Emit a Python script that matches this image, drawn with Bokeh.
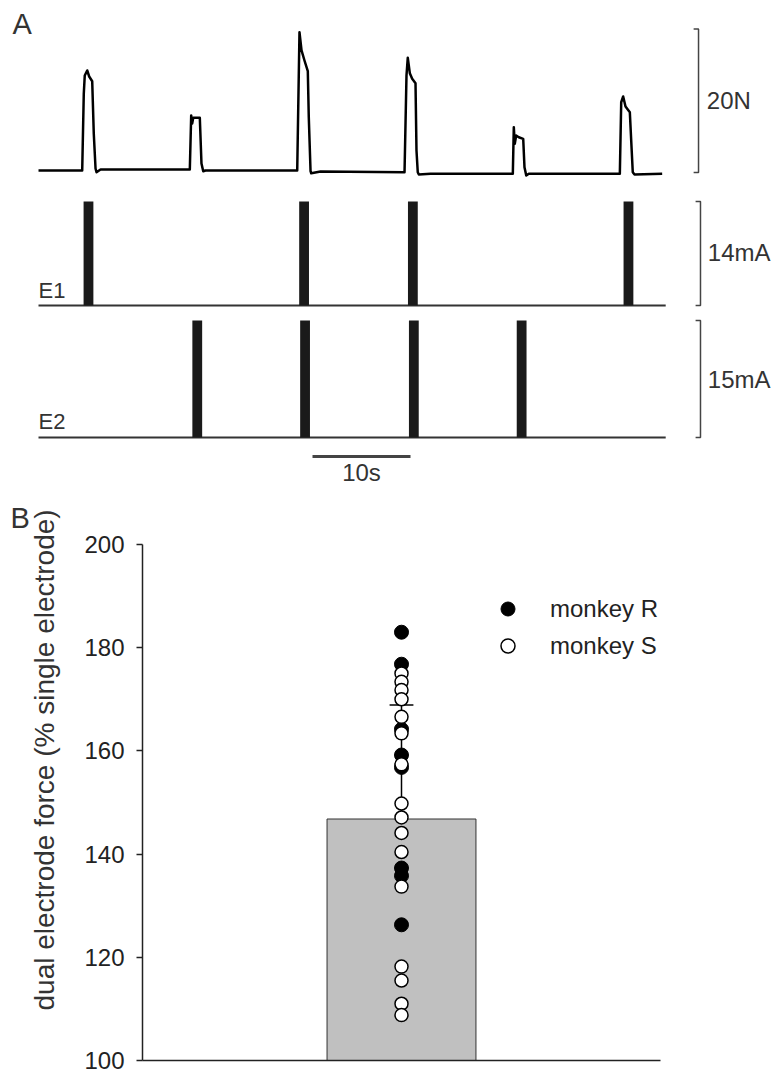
import math
from bokeh.plotting import figure
from bokeh.models import Range1d, Legend, LegendItem, FixedTicker, Title
from bokeh.layouts import column
from bokeh.embed import file_html
from bokeh.resources import INLINE
from bokeh.core.properties import value

FONT = "Liberation Sans"

# ---------------- Panel A data ----------------
# force trace: time (s) and force (N)
trace_t = [0.0, 4.46, 4.62, 4.72, 4.97, 5.17, 5.48, 5.64, 5.82, 5.92, 6.33,
           15.44, 15.58, 15.68, 15.79, 16.46, 16.63, 16.81, 17.04,
           26.40, 26.63, 26.84, 27.14, 27.48, 27.58, 27.76, 27.83, 28.78,
           37.35, 37.55, 37.68, 37.89, 38.13, 38.47, 38.57, 38.70, 38.81, 40.0,
           48.40, 48.50, 48.60, 48.74, 49.01, 49.46, 49.59, 49.77, 50.03,
           59.32, 59.46, 59.66, 59.90, 60.34, 60.48, 60.64, 60.82, 63.64]
trace_f = [0.28, 0.28, 10.98, 13.53, 14.23, 13.39, 12.73, 5.44, 0.56, 0.04, 0.42,
           0.42, 7.95, 6.83, 7.63, 7.63, 1.26, 0.18, 0.28,
           0.28, 19.57, 17.02, 15.62, 14.13, 7.71, 0.18, -0.10, 0.14,
           0.04, 13.53, 16.0, 13.85, 13.07, 12.45, 3.07, 0.04, -0.28, -0.18,
           -0.18, 6.32, 4.0, 5.16, 4.92, 4.70, 0.74, -0.42, -0.18,
           -0.18, 9.80, 10.60, 9.21, 8.41, 4.46, 0.04, -0.28, -0.18]

e1_onsets = [4.6, 26.6, 37.7, 59.7]
e2_onsets = [15.7, 26.7, 37.8, 48.8]
train_dur = 1.0
e1_amp = 14
e2_amp = 15
record_end = 64.0
force_bar_N = 20
time_bar_s = 10
e_labels = ["E1", "E2"]
scale_labels = ["20N", "14mA", "15mA", "10s"]

# ---------------- Panel B data ----------------
monkey_r = [183.0, 176.8, 164.2, 159.2, 156.8, 137.3, 135.8, 126.3]
monkey_s = [175.0, 173.4, 171.8, 170.0, 166.6, 163.4, 157.4, 149.8, 147.1,
            144.1, 140.4, 133.7, 118.2, 115.5, 111.0, 108.8]
mean_force = 146.8
err_force = 22.1
y_ticks = [100, 120, 140, 160, 180, 200]
legend_labels = ["monkey R", "monkey S"]
y_title = "dual electrode force (% single electrode)"

TXT = "#333333"

# ================= Panel A =================
pa = figure(width=773, height=490, x_range=Range1d(-3.878, 75.0),
            y_range=Range1d(-44.35, 23.99), x_axis_location=None,
            y_axis_location=None, toolbar_location=None, output_backend="svg",
            min_border=0, outline_line_color=None)
pa.grid.visible = False
pa.extra_y_ranges = {"e1": Range1d(-24.9, 41.05), "e2": Range1d(-6.79, 56.03)}

pa.line(trace_t, trace_f, line_color="black", line_width=2.5, line_join="round")

for name, onsets, amp in (("e1", e1_onsets, e1_amp), ("e2", e2_onsets, e2_amp)):
    pa.line([0, record_end], [0, 0], y_range_name=name, line_color="#333333", line_width=2)
    pa.quad(left=onsets, right=[o + train_dur for o in onsets], bottom=0, top=amp,
            y_range_name=name, fill_color="#1a1a1a", line_color=None)

# scale brackets
bx_f = 67.35
pa.multi_line(xs=[[bx_f - 0.5, bx_f, bx_f, bx_f - 0.5]], ys=[[0, 0, force_bar_N, force_bar_N]],
              line_color="#444444", line_width=1.5)
bx_e = 67.55
pa.multi_line(xs=[[bx_e - 0.5, bx_e, bx_e, bx_e - 0.5]], ys=[[0, 0, e1_amp, e1_amp]],
              y_range_name="e1", line_color="#444444", line_width=1.5)
pa.multi_line(xs=[[bx_e - 0.5, bx_e, bx_e, bx_e - 0.5]], ys=[[0, 0, e2_amp, e2_amp]],
              y_range_name="e2", line_color="#444444", line_width=1.5)
# time bar
tb0 = 27.96
pa.line([tb0, tb0 + time_bar_s], [-2.44, -2.44], y_range_name="e2",
        line_color="#444444", line_width=3)

common = dict(text_font=value(FONT), text_font_size="24px", text_color=TXT,
              text_baseline="middle")
pa.text(x=[68.2], y=[force_bar_N / 2], text=[scale_labels[0]], text_align="left", **common)
pa.text(x=[68.3], y=[7.1], text=[scale_labels[1]], text_align="left", y_range_name="e1", **common)
pa.text(x=[68.3], y=[7.5], text=[scale_labels[2]], text_align="left", y_range_name="e2", **common)
pa.text(x=[tb0 + time_bar_s / 2], y=[-4.5], text=[scale_labels[3]], text_align="center",
        y_range_name="e2", **common)
common22 = dict(common, text_font_size="22px")
pa.text(x=[0.0], y=[2.0], text=[e_labels[0]], text_align="left", y_range_name="e1", **common22)
pa.text(x=[0.0], y=[2.05], text=[e_labels[1]], text_align="left", y_range_name="e2", **common22)
pa.text(x=[-2.65], y=[20.78], text=["A"], text_align="left", text_font=value(FONT),
        text_font_size="29px", text_color=TXT, text_baseline="middle")

# ================= Panel B =================
pb = figure(width=773, height=582, x_range=Range1d(0, 2), y_range=Range1d(100, 200),
            toolbar_location=None, output_backend="svg",
            min_border_left=142, min_border_right=113, min_border_top=54,
            min_border_bottom=12, outline_line_color=None)
pb.grid.visible = False

for fig in (pa, pb):
    try:
        fig.frame_align = False
    except Exception:
        pass

ya = pb.yaxis[0]
ya.ticker = FixedTicker(ticks=y_ticks)
ya.minor_tick_line_color = None
ya.major_tick_out = 6
ya.major_tick_in = 0
ya.axis_line_width = 1.5
ya.axis_line_color = "#222222"
ya.major_tick_line_color = "#222222"
ya.major_tick_line_width = 1.5
ya.major_label_text_font = FONT
ya.major_label_text_font_size = "24px"
ya.major_label_text_color = "#222222"
ya.major_label_standoff = 12

xa = pb.xaxis[0]
xa.major_tick_line_color = None
xa.minor_tick_line_color = None
xa.major_label_text_font_size = "0px"
xa.major_label_standoff = 0
xa.axis_line_width = 1.5
xa.axis_line_color = "#222222"

pb.vbar(x=[1], width=0.575, top=[mean_force], bottom=100, fill_color="#c0c0c0",
        line_color="#333333", line_width=1)
pb.segment(x0=[1], y0=[mean_force], x1=[1], y1=[mean_force + err_force],
           line_color="black", line_width=1.5)
pb.segment(x0=[1 - 0.046], y0=[mean_force + err_force], x1=[1 + 0.046],
           y1=[mean_force + err_force], line_color="black", line_width=1.5)

r_r = pb.scatter(x=[1] * len(monkey_r), y=monkey_r, size=14, fill_color="black",
                 line_color="black")
r_s = pb.scatter(x=[1] * len(monkey_s), y=monkey_s, size=13, fill_color="white",
                 line_color="black", line_width=1.5)

legend = Legend(items=[LegendItem(label=legend_labels[0], renderers=[r_r]),
                       LegendItem(label=legend_labels[1], renderers=[r_s])],
                location=(348, 397), glyph_width=35, glyph_height=35, spacing=2,
                label_standoff=25, padding=0, margin=0, label_height=35,
                label_text_font=FONT, label_text_font_size="24px",
                label_text_color="#222222", border_line_color=None,
                background_fill_alpha=0)
pb.add_layout(legend)

pb.add_layout(Title(text=y_title, align="left", offset=50, standoff=44,
                    text_font=FONT, text_font_size="28px", text_font_style="normal",
                    text_color=TXT), "left")
pb.add_layout(Title(text="B", align="left", offset=-132, standoff=18,
                    vertical_align="top",
                    text_font=FONT, text_font_size="29px", text_font_style="normal",
                    text_color=TXT), "above")

layout = column(pa, pb)
open("out.html", "w").write(file_html(layout, INLINE))
